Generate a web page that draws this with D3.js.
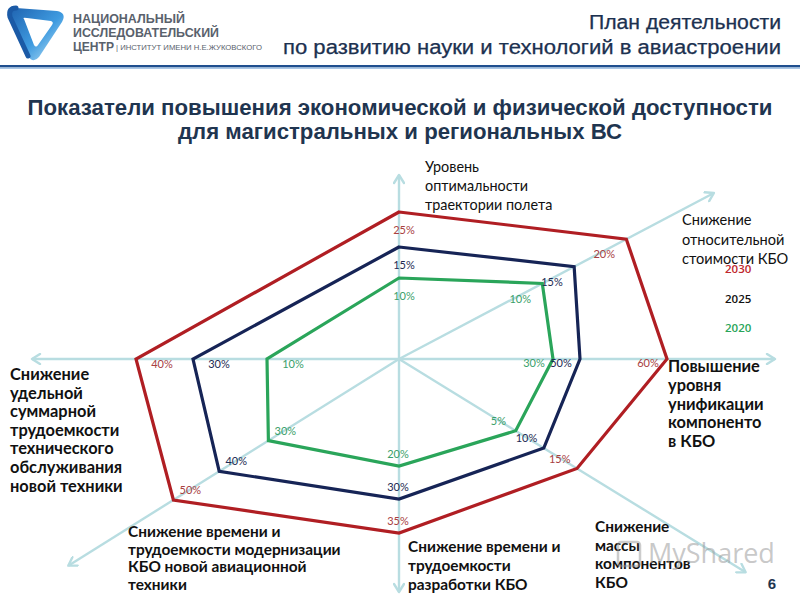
<!DOCTYPE html>
<html>
<head>
<meta charset="utf-8">
<script src="https://cdn.jsdelivr.net/npm/d3@7/dist/d3.min.js"></script>
<style>
  html, body { margin: 0; padding: 0; background: #ffffff; }
  svg { display: block; }
</style>
</head>
<body>
<svg id="chart" width="800" height="600"></svg>
<script>
// ---------------- DATA ----------------
const categories = [
  "Уровень оптимальности траектории полета",
  "Снижение относительной стоимости КБО",
  "Повышение уровня унификации компоненто в КБО",
  "Снижение массы компонентов КБО",
  "Снижение времени и трудоемкости разработки КБО",
  "Снижение времени и трудоемкости модернизации КБО новой авиационной техники",
  "Снижение удельной суммарной трудоемкости технического обслуживания новой техники"
];
const categoryLines = [
  ["Уровень", "оптимальности", "траектории полета"],
  ["Снижение", "относительной", "стоимости КБО"],
  ["Повышение", "уровня", "унификации", "компоненто", "в КБО"],
  ["Снижение", "массы", "компонентов", "КБО"],
  ["Снижение времени и", "трудоемкости", "разработки КБО"],
  ["Снижение времени и", "трудоемкости модернизации", "КБО новой авиационной", "техники"],
  ["Снижение", "удельной", "суммарной", "трудоемкости", "технического", "обслуживания", "новой техники"]
];
const years = ["2030", "2025", "2020"];
const values2030 = [25, 20, 60, 15, 35, 50, 40];
const values2025 = [15, 15, 50, 10, 30, 40, 30];
const values2020 = [10, 10, 30, 5, 20, 30, 10];
const seriesValues = [values2030, values2025, values2020];

const headerTitle = ["План деятельности", "по развитию науки и технологий  в авиастроении"];
const chartTitle = ["Показатели повышения экономической и физической доступности", "для магистральных и региональных ВС"];
const pageNumber = "6";

// ---------------- LAYOUT ----------------
const W = 800, H = 600;
const cx = 399, cy = 359;
// axis directions (degrees, counter-clockwise from east) and lengths
const axisAngleDeg = [90, 27.8, 0, -31.6, -90, 212, 180];
const axisLength = [184, 356, 376, 407, 233, 390, 367];
// radii the schematic uses for the 2020 / 2025 / 2030 rings on each axis
const ringRadii = [
  [81, 112, 147],
  [162, 198, 257],
  [154, 181, 268],
  [137, 170, 209],
  [107, 140, 174],
  [154, 212, 266],
  [132, 206, 263]
];
const labelInset = [17, 25, 19, 18, 13, 20, 26];
const labelShift = [[5, 0], [0, 3], [0, 3], [-2, -1], [-1, 0], [0, 0], [0, 4]];

const seriesColor = ["#b01e23", "#162456", "#2aa55a"];
const seriesLabelColor = ["#a8403f", "#1d2a52", "#3aa06a"];
const legendColor = ["#c0282d", "#111111", "#2aa55a"];
const axisColor = "#b8dde1";

// per-axis piecewise scales: value -> radius
const axisScales = categories.map((c, i) => {
  const dom = [0, values2020[i], values2025[i], values2030[i]];
  const rng = [0, ringRadii[i][0], ringRadii[i][1], ringRadii[i][2]];
  return d3.scaleLinear().domain(dom).range(rng);
});
// angle scale (d3 radial convention: 0 = north, clockwise)
const angleScale = d3.scaleOrdinal()
  .domain(d3.range(categories.length))
  .range(axisAngleDeg.map(a => (90 - a) * Math.PI / 180));

const svg = d3.select("#chart");

// ---------------- HEADER ----------------
const defs = svg.append("defs");
const lg = defs.append("linearGradient").attr("id", "logoGrad")
  .attr("x1", "0").attr("y1", "0").attr("x2", "1").attr("y2", "1");
lg.append("stop").attr("offset", "0").attr("stop-color", "#1f63b0");
lg.append("stop").attr("offset", "0.55").attr("stop-color", "#3f9be0");
lg.append("stop").attr("offset", "1").attr("stop-color", "#c5e8f8");

const logo = svg.append("g");
logo.append("path")
  .attr("d", "M16,8 Q8,8 10,17 L28,56 Q33,64 39,57 L62,22 Q67,13 57,11 Z")
  .attr("fill", "url(#logoGrad)");
logo.append("path")
  .attr("d", "M24,19 Q22,17 27,18 L51,21 Q54,22 52,25 L38,45 Q36,48 34,45 Z")
  .attr("fill", "#ffffff");
logo.append("path")
  .attr("d", "M16,8 Q8,8 10,17 L28,56")
  .attr("fill", "none").attr("stroke", "#1b5aa6").attr("stroke-width", 5).attr("stroke-linecap", "round");

const logoText = svg.append("g").attr("font-family", "'Liberation Sans', Arial, sans-serif")
  .attr("font-weight", "bold").attr("fill", "#59616c");
logoText.append("text").attr("x", 73).attr("y", 23).attr("font-size", 13)
  .attr("textLength", 112).attr("lengthAdjust", "spacingAndGlyphs").text("НАЦИОНАЛЬНЫЙ");
logoText.append("text").attr("x", 73).attr("y", 37).attr("font-size", 13)
  .attr("textLength", 146).attr("lengthAdjust", "spacingAndGlyphs").text("ИССЛЕДОВАТЕЛЬСКИЙ");
logoText.append("text").attr("x", 73).attr("y", 51).attr("font-size", 13)
  .attr("textLength", 41).attr("lengthAdjust", "spacingAndGlyphs").text("ЦЕНТР");
logoText.append("text").attr("x", 116).attr("y", 50).attr("font-size", 7).attr("font-weight", "normal")
  .attr("textLength", 146).attr("lengthAdjust", "spacingAndGlyphs").text("| ИНСТИТУТ ИМЕНИ Н.Е.ЖУКОВСКОГО");

svg.append("g").selectAll("text").data(headerTitle).join("text")
  .attr("x", 781).attr("y", (d, i) => 29 + i * 25)
  .attr("text-anchor", "end")
  .attr("font-family", "'Liberation Sans', Arial, sans-serif")
  .attr("font-size", 19.5).attr("fill", "#1c3150")
  .attr("stroke", "#1c3150").attr("stroke-width", 0.25)
  .attr("textLength", (d, i) => i === 0 ? 192 : 498).attr("lengthAdjust", "spacingAndGlyphs")
  .text(d => d);

svg.append("rect").attr("x", 0).attr("y", 65).attr("width", W).attr("height", 2.5).attr("fill", "#1f4f8f");
svg.append("rect").attr("x", 0).attr("y", 67.5).attr("width", W).attr("height", 1.5).attr("fill", "#a9c7e6");

// ---------------- TITLE ----------------
svg.append("g").selectAll("text").data(chartTitle).join("text")
  .attr("x", 400).attr("y", (d, i) => 115 + i * 24)
  .attr("text-anchor", "middle")
  .attr("font-family", "'Liberation Sans Narrow', 'Arial Narrow', 'Liberation Sans', sans-serif")
  .attr("font-weight", "bold").attr("font-size", 21.5).attr("fill", "#1f3550")
  .attr("textLength", (d, i) => i === 0 ? 745 : 444).attr("lengthAdjust", "spacingAndGlyphs")
  .text(d => d);

// ---------------- AXES ----------------
const marker = defs.append("marker").attr("id", "arrow")
  .attr("viewBox", "0 0 12 12").attr("refX", 10).attr("refY", 6)
  .attr("markerWidth", 12).attr("markerHeight", 12).attr("markerUnits", "userSpaceOnUse")
  .attr("orient", "auto");
marker.append("path").attr("d", "M2,1 L10,6 L2,11")
  .attr("fill", "none").attr("stroke", axisColor).attr("stroke-width", 2.4)
  .attr("stroke-linecap", "round").attr("stroke-linejoin", "round");

const pt = (i, r) => {
  const a = angleScale(i);
  return [cx + r * Math.sin(a), cy - r * Math.cos(a)];
};

const axisG = svg.append("g");
axisG.selectAll("line").data(categories).join("line")
  .attr("x1", cx).attr("y1", cy)
  .attr("x2", (d, i) => pt(i, axisLength[i])[0])
  .attr("y2", (d, i) => pt(i, axisLength[i])[1])
  .attr("stroke", axisColor).attr("stroke-width", 2.4)
  .attr("marker-end", "url(#arrow)");

// ---------------- SERIES POLYGONS ----------------
const radial = d3.lineRadial()
  .angle(d => angleScale(d.i))
  .radius(d => axisScales[d.i](d.v))
  .curve(d3.curveLinearClosed);

const polyG = svg.append("g").attr("transform", `translate(${cx},${cy})`);
polyG.selectAll("path").data(seriesValues).join("path")
  .attr("d", vals => radial(vals.map((v, i) => ({ i, v }))))
  .attr("fill", "none")
  .attr("stroke", (d, s) => seriesColor[s])
  .attr("stroke-width", 3.2)
  .attr("stroke-linejoin", "miter");

// value labels
const valG = svg.append("g").attr("font-family", "Lato, 'Open Sans', sans-serif").attr("font-size", 11);
seriesValues.forEach((vals, s) => {
  valG.append("g").selectAll("text").data(vals).join("text")
    .attr("x", (v, i) => pt(i, axisScales[i](v) - labelInset[i])[0] + labelShift[i][0])
    .attr("y", (v, i) => pt(i, axisScales[i](v) - labelInset[i])[1] + labelShift[i][1])
    .attr("text-anchor", "middle").attr("dominant-baseline", "central")
    .attr("fill", seriesLabelColor[s])
    .text(v => v + "%");
});

// ---------------- CATEGORY LABELS ----------------
const catLayout = [
  { x: 425, y: 172, size: 14.4, weight: "normal", lh: 19.2 },
  { x: 682, y: 225, size: 14.6, weight: "normal", lh: 19.6 },
  { x: 668, y: 372, size: 16.4, weight: "bold", lh: 18.8 },
  { x: 595, y: 532, size: 15.4, weight: "bold", lh: 18.7 },
  { x: 408, y: 552, size: 15.4, weight: "bold", lh: 19 },
  { x: 128, y: 537, size: 15.4, weight: "bold", lh: 17.6 },
  { x: 10, y: 380, size: 16.4, weight: "bold", lh: 18.6 }
];
const catG = svg.append("g").attr("font-family", "Lato, 'Open Sans', sans-serif").attr("fill", "#111");
categoryLines.forEach((lines, i) => {
  const L = catLayout[i];
  catG.append("g").selectAll("text").data(lines).join("text")
    .attr("x", L.x).attr("y", (d, k) => L.y + k * L.lh)
    .attr("font-size", L.size).attr("font-weight", L.weight)
    .text(d => d);
});

// ---------------- LEGEND ----------------
svg.append("g").selectAll("text").data(years).join("text")
  .attr("x", 725).attr("y", (d, i) => 273 + i * 29.5)
  .attr("font-family", "'Open Sans', sans-serif").attr("font-size", 11.5)
  .attr("font-weight", 600)
  .attr("fill", (d, i) => legendColor[i])
  .text(d => d);

// ---------------- WATERMARK & PAGE NUMBER ----------------
svg.append("text").attr("x", 648).attr("y", 563)
  .attr("font-family", "'Open Sans', sans-serif").attr("font-size", 27)
  .attr("fill", "#9a9a9a").attr("fill-opacity", 0.55).text("MyShared");
svg.append("rect").attr("x", 618).attr("y", 542).attr("width", 22).attr("height", 24).attr("rx", 3)
  .attr("fill", "none").attr("stroke", "#9a9a9a").attr("stroke-opacity", 0.5).attr("stroke-width", 2.5);

svg.append("text").attr("x", 772).attr("y", 589).attr("text-anchor", "middle")
  .attr("font-family", "'Liberation Sans', Arial, sans-serif").attr("font-weight", "bold")
  .attr("font-size", 15).attr("fill", "#1f3550").text(pageNumber);
</script>
</body>
</html>
